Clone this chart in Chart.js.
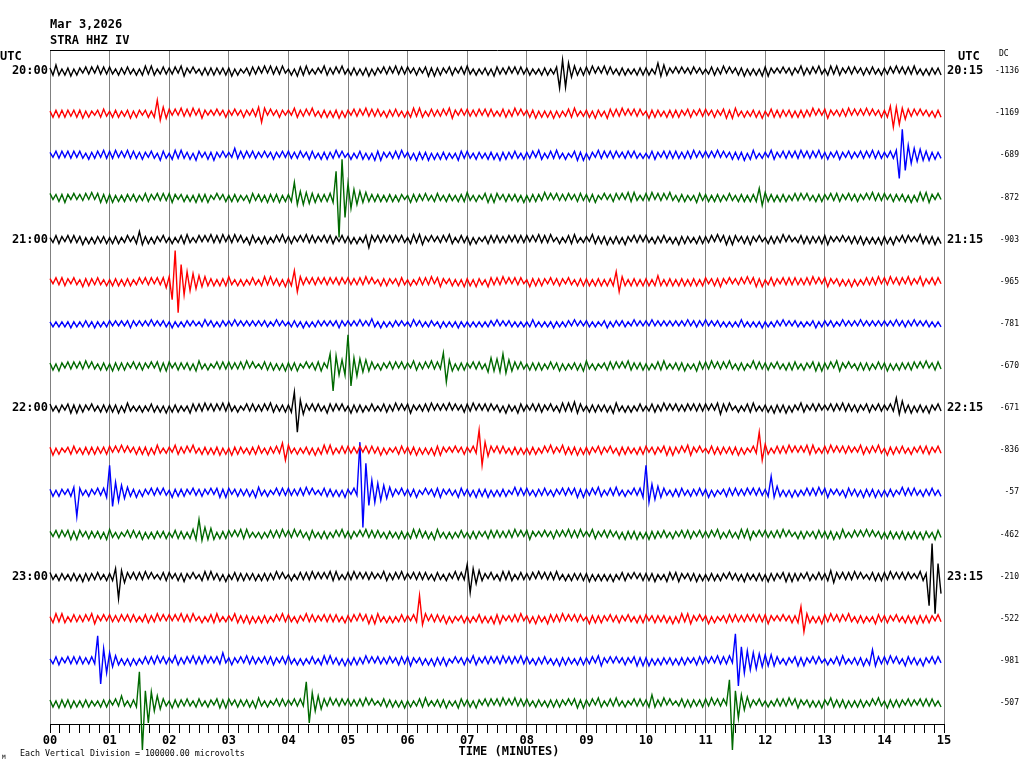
<!DOCTYPE html>
<html>
<head>
<meta charset="utf-8">
<script src="https://cdn.jsdelivr.net/npm/chart.js@4.4.1/dist/chart.umd.min.js"></script>
<style>
html,body{margin:0;padding:0;background:#fff;}
#wrap{position:relative;width:1024px;height:768px;}
canvas{display:block;}
</style>
</head>
<body>
<div id="wrap"><canvas id="c" width="1024" height="768"></canvas></div>
<script>
// ---- Data read from the helicorder (swing amplitudes, 1 char per 3 s, unit = 1/42 division) ----
const titleLines = ['Mar 3,2026', 'STRA HHZ IV'];
const minuteLabels = ['00','01','02','03','04','05','06','07','08','09','10','11','12','13','14','15'];
const leftTimeLabels = ['20:00','21:00','22:00','23:00'];
const rightTimeLabels = ['20:15','21:15','22:15','23:15'];
const dcValues = ['-1136','-1169','-689','-872','-903','-965','-781','-670','-671','-836','-57','-462','-210','-522','-981','-507'];
const footnote = 'Each Vertical Division = 100000.00 microvolts';

const trace00 = ["34642435243243425343","43243343242453542343","33425532422434343334","35242234434252534352","24254453233254334253","24342435243243425343","42343245353432443243","53242334254333424343","34232434234hbg865434","43524253432434232434","34238564324242334233","23443352423435242425","45323242343254334253","24535432434234334324","33425243435324243334"];
const trace01 = ["24343433343524223443","2434233524323424d765","42425343524532324234","32423432436952423432","32543342532434243524","32434253434324334324","24535423433342553242","43334243432344335242","34352424252423445323","34253325434352424342","25343324343432443243","42343245355324233425","23443433342434335242","45323343524242524234","347e6b56434242332434"];
const trace02 = ["32434243424324334253","43524253433432432543","24535334254234353242","32734342433242343242","43334234432434335242","24234424254532334352","34253435242434232543","43243324342534334324","33425423435324224535","24325342434233424323","23443243434333435242","42425242343435245323","32543243424352434253","34324432433243425343","32435nqfa87665453433"];
const trace03 = ["42343532423342524535","35242433342344324343","45323424253435224234","24342325433425343524","34f7675645343445qECk","eb876554343424342432","25343343244324332434","53242245354234333425","24343352424333423443","34352242344242545323","43524342532434232543","34243423432434243498","54342434234342432434","32434432433432425343","42343334252453553242"];
const trace04 = ["23443243433524243334","24342342348534243243","24234453234242534352","43524325432434234253","34324253433243443243","34242348424342434243","24535532423342542343","35242234434333424343","42425343522423445323","32543435243425324342","43243343242534332434","33425245354234353242","24343352422344343334","45323242343435242425","34253243423254343524"];
const trace05 = ["32434432432534334324","24342434234243424346","5ivvhda9876554342434","53242423432453533425","34ba5342434243424342","43334352422434323443","24234343524532342425","34253325434352424342","25343432433432432434","3424342434aa54243424","34246424342434243424","42343532423342524535","23443243434333435242","45323424252423434352","43524342533254324342"];
const trace06 = ["23232324232333242323","32323234323232423233","24232332322342332332","32423232323233224232","23332423233232323432","32324232532423233232","23423323322423232423","23232323324232332323","23432323242323324232","33232234233233224232","32423232323232423332","42323323232343232324","23233242323323223423","32332242323242323232","32324233324232332323"];
const trace07 = ["34253243424352432434","25343432433432424535","42343334255324224343","43334352422344342425","34352242344532cpa969","vk8a7665432432434243","325433425343dg652434","324343268576c7654343","24343423433524233425","53242234434242543334","24234453233435232543","43524342532434225343","34324324344324324535","33425532422434342343","35242433344242523443"];
const trace08 = ["43243245353432432434","34352453232423442425","24342325434352434253","53242243433342543334","34go8642434325434243","25343423432344335242","45323343524242524234","43524243423425332543","32434432432453536543","24343334255324242343","23443352424333424343","42425643522423445323","34253435243254324342","32434253433432443243","3243a674352434253243"];
const trace09 = ["35242234432434343334","42425242343435245323","32543342532434243524","2534332434432433437a","53242334252453542343","43334243433524223443","34352424254532324234","3243kf86424343243424","24342342533254343524","34324432432534332434","42343245353342553242","234434333435242243ia","64234343524242545323","43524243423254334253","25343343243243443243"];
const trace10 = ["342432345o4324324345","rea97654352432434243","25343432433432424535","42343334255324224343","43334352422344342425","3243Oztdca9876543243","34352242344532332543","34253435242434225343","43243343243243424535","33425423435324224345","ra876543243443243343","35242234434333424343","34g56424252423434352","45323325433425343524","24342253434324334324"];
const trace11 = ["32434245354234333425","53242243433524243334","2344342455f675652434","42425453232423434352","43524325432434234253","34324253434324332434","24535334255324242343","24343234434333435242","45323242344242534352","32543243423425343524","25343343243243443243","33425423432453553242","43334352422434323443","34352453234242524234","24342435243425332543"];
const trace12 = ["43243324342534334324","348m6642434352422344","42343532422453533425","23443433342434335242","24234343524242545323","43524243423254334253","32434343244324325343","cg876432432453542343","33425243435324243334","35242424252344324234","34352325434532343524","24342432433425332434","25343245353432442343","34664243435242234434","435242434232543txBdh"];
const trace13 = ["24535423433342553242","43334243432344335242","42425343522423445323","32543435242434234253","43243253433243434324","33425245355324242343","3243n652434335242234","24234424254532334352","34253325434352424342","25343432433432432434","42343334252453553242","35242234434333424343","453232423434cd542425","43524342532434232543","34324324342534343243"];
const trace14 = ["2344324343433343pncc","86542425242343435243","32543342534352424382","34324253433243443243","53242423432453533425","24343352424333423443","45323424253435224234","32543243424352434253","43243343242534332434","33425532424234324535","35242433342434323443","4242534352rpeca98876","65654324324535324342","2423445323343524b543","43524325433425324342"];
const trace15 = ["34253435242434232434","3243732434vLckb87643","25343343244324324535","42343334255324224343","324343lka87643524342","43334352422344342425","24234453233435232543","34253243424352425343","43243324343432424535","33425423435324224343","34843352422344343334","43524342nLcf87643243","24234343524532342425","32543435242434234253","25343432433243434324"];

const traces = [trace00,trace01,trace02,trace03,trace04,trace05,trace06,trace07,trace08,trace09,trace10,trace11,trace12,trace13,trace14,trace15];
const traceColors = ['#000000','#ff0000','#0000ff','#006900'];
const SEC_PER_SWING = 3;
const AMP_UNIT = 1 / 42;

function ampOf(ch) {
  const c = ch.charCodeAt(0);
  if (c >= 65 && c <= 90) return 36 + (c - 65);
  return parseInt(ch, 36);
}

const datasets = traces.map((groups, k) => {
  const s = groups.join('');
  const pts = [];
  for (let i = 0; i < s.length; i++) {
    const a = ampOf(s[i]) * AMP_UNIT;
    pts.push({ x: i * SEC_PER_SWING, y: -k + (i % 2 === 0 ? a : -a) });
  }
  return {
    data: pts,
    borderColor: traceColors[k % 4],
    borderWidth: 1.4,
    pointRadius: 0,
    tension: 0,
    fill: false,
    clip: false,
    xAxisID: 'x',
    yAxisID: 'y'
  };
});

const tickSecs = [];
for (let s = 0; s <= 900; s += 10) tickSecs.push(s);
const traceVals = [];
for (let k = 0; k < 16; k++) traceVals.push(-k);

const MONO = "'DejaVu Sans Mono', 'Liberation Mono', monospace";

const textPlugin = {
  id: 'heliText',
  afterDraw(chart) {
    const c = chart.ctx;
    c.save();
    c.fillStyle = '#000';
    c.textBaseline = 'middle';
    c.textAlign = 'left';
    c.font = 'bold 12px ' + MONO;
    c.fillText(titleLines[0], 50, 25);
    c.fillText(titleLines[1], 50, 41);
    c.fillText('UTC', 0, 57);
    c.fillText('UTC', 958, 57);
    c.textAlign = 'center';
    c.fillText('TIME (MINUTES)', 509, 752);
    c.textAlign = 'left';
    c.font = '8px ' + MONO;
    c.fillText('DC', 999, 54);
    c.font = '8.3px ' + MONO;
    c.fillText(footnote, 20, 754);
    c.font = '6px ' + MONO;
    c.fillText('M', 2, 757);
    c.restore();
  }
};

new Chart(document.getElementById('c'), {
  type: 'line',
  data: { datasets },
  plugins: [textPlugin],
  options: {
    responsive: false,
    animation: false,
    parsing: false,
    normalized: true,
    events: [],
    layout: { padding: { top: 50, left: 0, right: 5, bottom: 0 } },
    plugins: { legend: { display: false }, tooltip: { enabled: false }, title: { display: false } },
    scales: {
      x: {
        type: 'linear', position: 'bottom', min: 0, max: 900,
        afterBuildTicks: s => { s.ticks = tickSecs.map(v => ({ value: v })); },
        afterFit: s => { s.height = 44; },
        ticks: {
          autoSkip: false, maxRotation: 0, minRotation: 0, padding: 1, color: '#000',
          font: { family: MONO, size: 12, weight: 'bold' },
          callback: v => (v % 60 === 0 ? minuteLabels[v / 60] : '')
        },
        grid: {
          drawOnChartArea: true, drawTicks: true, tickLength: 9, lineWidth: 1,
          color: ctx => (ctx.tick && ctx.tick.value % 60 === 0 ? '#808080' : 'rgba(0,0,0,0)'),
          tickColor: '#000'
        },
        border: { display: true, color: '#000', width: 1 }
      },
      xTop: {
        type: 'linear', position: 'top', min: 0, max: 900,
        afterFit: s => { s.height = 0; },
        ticks: { display: false },
        grid: { display: false, drawTicks: false },
        border: { display: true, color: '#000', width: 1 }
      },
      y: {
        type: 'linear', position: 'left', min: -15.5, max: 0.5,
        afterBuildTicks: s => { s.ticks = [0, -4, -8, -12].map(v => ({ value: v })); },
        afterFit: s => { s.width = 50; },
        ticks: {
          padding: 2, color: '#000', font: { family: MONO, size: 12, weight: 'bold' },
          callback: v => leftTimeLabels[Math.round(-v / 4)]
        },
        grid: { display: false, drawTicks: false, tickLength: 0 },
        border: { display: false }
      },
      yR: {
        type: 'linear', position: 'right', weight: 0, min: -15.5, max: 0.5,
        afterBuildTicks: s => { s.ticks = [0, -4, -8, -12].map(v => ({ value: v })); },
        afterFit: s => { s.width = 43; },
        ticks: {
          padding: 3, color: '#000', font: { family: MONO, size: 12, weight: 'bold' },
          callback: v => rightTimeLabels[Math.round(-v / 4)]
        },
        grid: { display: false, drawTicks: false, tickLength: 0 },
        border: { display: false }
      },
      yDC: {
        type: 'linear', position: 'right', weight: 1, min: -15.5, max: 0.5,
        afterBuildTicks: s => { s.ticks = traceVals.map(v => ({ value: v })); },
        afterFit: s => { s.width = 32; },
        ticks: {
          padding: 0, crossAlign: 'far', color: '#000', font: { family: MONO, size: 8 },
          callback: v => dcValues[Math.round(-v)]
        },
        grid: { display: false, drawTicks: false, tickLength: 0 },
        border: { display: false }
      }
    }
  }
});
</script>
</body>
</html>
